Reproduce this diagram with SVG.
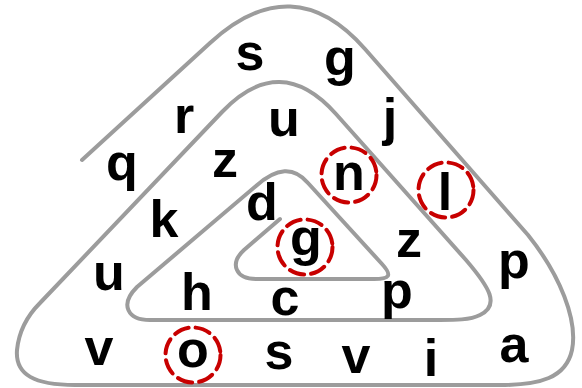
<svg xmlns="http://www.w3.org/2000/svg" width="582" height="388" viewBox="0 0 582 388">
<style>
.sp{fill:none;stroke:#9c9c9c;stroke-width:4;stroke-linecap:round;stroke-linejoin:round}
.t{font-family:"Liberation Sans",Arial,sans-serif;font-weight:bold;font-size:52px;fill:#000;text-anchor:middle}
.c{fill:none;stroke:#c80000;stroke-width:4;stroke-dasharray:15 7;stroke-linecap:round}
</style>
<rect width="582" height="388" fill="#fff"/>
<g id="connectors">
<path class="sp" d="M 82 160 L 210 43 Q 293 -33 365 49 L 528 235 C 560 275 578 320 572 350 C 566 378 540 385 500 385 L 75 385 C 35 385 15 375 17 350 C 19 330 28 315 40 303 L 222 112 Q 280 51 336 114 L 466 260 C 490 288 500 305 480 315 C 470 320 455 320 440 320 L 150 320 C 128 320 119 305 137 287 L 256 186 Q 287 158 308 183 L 382 264 C 393 276 389 279 374 279 L 256 279 C 236 279 229 264 244 250 L 280 219"/>
</g>
<g id="n-s1"><text class="t" x="250" y="70">s</text></g>
<g id="n-g1"><text class="t" x="340" y="75">g</text></g>
<g id="n-r"><text class="t" x="184" y="133">r</text></g>
<g id="n-u1"><text class="t" x="284" y="136">u</text></g>
<g id="n-j"><text class="t" x="390" y="135">j</text></g>
<g id="n-q"><text class="t" x="122" y="180">q</text></g>
<g id="n-z1"><text class="t" x="225" y="177">z</text></g>
<g id="n-n"><circle class="c" cx="349" cy="175" r="27.5"/><text class="t" x="349" y="190">n</text></g>
<g id="n-l"><circle class="c" cx="446" cy="190" r="27.5"/><text class="t" x="445" y="210">l</text></g>
<g id="n-k"><text class="t" x="164" y="237">k</text></g>
<g id="n-d"><text class="t" x="262" y="220">d</text></g>
<g id="n-g2"><circle class="c" cx="305" cy="247" r="27.5"/><text class="t" x="306" y="255">g</text></g>
<g id="n-z2"><text class="t" x="409" y="257">z</text></g>
<g id="n-p1"><text class="t" x="514" y="278">p</text></g>
<g id="n-u2"><text class="t" x="109" y="290">u</text></g>
<g id="n-h"><text class="t" x="197" y="310">h</text></g>
<g id="n-c"><text class="t" x="285" y="315">c</text></g>
<g id="n-p2"><text class="t" x="397" y="308">p</text></g>
<g id="n-v1"><text class="t" x="99" y="365">v</text></g>
<g id="n-o"><circle class="c" cx="193" cy="355" r="27.5"/><text class="t" x="193" y="367">o</text></g>
<g id="n-s2"><text class="t" x="279" y="369">s</text></g>
<g id="n-v2"><text class="t" x="356" y="373">v</text></g>
<g id="n-i"><text class="t" x="431" y="376">i</text></g>
<g id="n-a"><text class="t" x="514" y="362">a</text></g>
</svg>
